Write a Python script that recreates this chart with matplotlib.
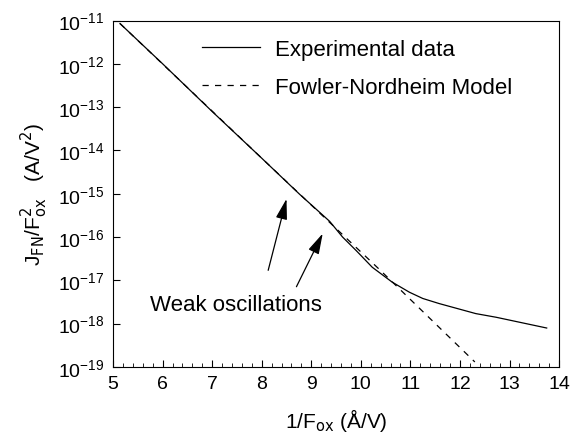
import matplotlib
matplotlib.use("Agg")
import matplotlib.pyplot as plt
from matplotlib.ticker import MultipleLocator, FixedLocator, NullLocator

# values
exp_x = [5.14, 6.0, 7.0, 8.0, 8.76, 9.37, 9.63, 9.91, 10.23, 10.63, 10.98,
         11.25, 11.58, 12.32, 12.73, 13.75]
exp_y = [8.5e-12, 1.0e-12, 7.9e-14, 6.6e-15, 9.8e-16, 2.3e-16, 1.0e-16, 4.8e-17,
         2.0e-17, 9.1e-18, 5.3e-18, 3.8e-18, 2.9e-18, 1.7e-18, 1.4e-18, 7.9e-19]
fn_x = [5.14, 8.0, 10.37, 12.3]
fn_y = [8.5e-12, 6.6e-15, 1.8e-17, 1.3e-19]
y_ticks = [10.0 ** e for e in range(-19, -10)]

plt.rcParams['font.family'] = ['Liberation Sans', 'DejaVu Sans']

fig = plt.figure(figsize=(5.74, 4.39), dpi=100)
ax = fig.add_axes([0.197, 0.162, 0.777, 0.789])

ax.semilogy(exp_x, exp_y, '-', color='black', lw=0.9, label='Experimental data')
ax.semilogy(fn_x, fn_y, '--', color='black', lw=0.9, dashes=(5, 5),
            label='Fowler-Nordheim Model')

ax.set_xlim(5, 14)
ax.set_ylim(1e-19, 1e-11)
ax.xaxis.set_major_locator(MultipleLocator(1))
ax.xaxis.set_minor_locator(MultipleLocator(0.2))
ax.yaxis.set_major_locator(FixedLocator(y_ticks))
ax.yaxis.set_minor_locator(NullLocator())
ax.tick_params(which='both', direction='in', labelsize=14)
ax.tick_params(which='major', length=5, pad=6)
ax.tick_params(which='minor', length=3)

ax.set_xlabel('1/F$_{\\rm ox}$ (Å/V)', fontsize=15, labelpad=10)
ax.set_ylabel('J$_{\\rm FN}$/F$_{\\rm ox}^{2}$   (A/V$^{2}$)', fontsize=15, labelpad=6)

ax.legend(loc='upper left', frameon=False, fontsize=16, handlelength=2.6,
          handletextpad=0.7, labelspacing=0.75, borderpad=0, borderaxespad=0,
          bbox_to_anchor=(0.199, 0.947))

ax.text(5.74, 2.7e-18, 'Weak oscillations', fontsize=16, va='center')
arrow = dict(arrowstyle='-|>,head_length=0.9,head_width=0.25', color='black',
             lw=0.9, mutation_scale=14, shrinkA=0, shrinkB=0)
ax.annotate('', xy=(8.50, 7.6e-16), xytext=(8.13, 1.7e-17), arrowprops=arrow)
ax.annotate('', xy=(9.23, 1.2e-16), xytext=(8.70, 7.1e-18), arrowprops=arrow)

fig.savefig('out.png', dpi=100)
